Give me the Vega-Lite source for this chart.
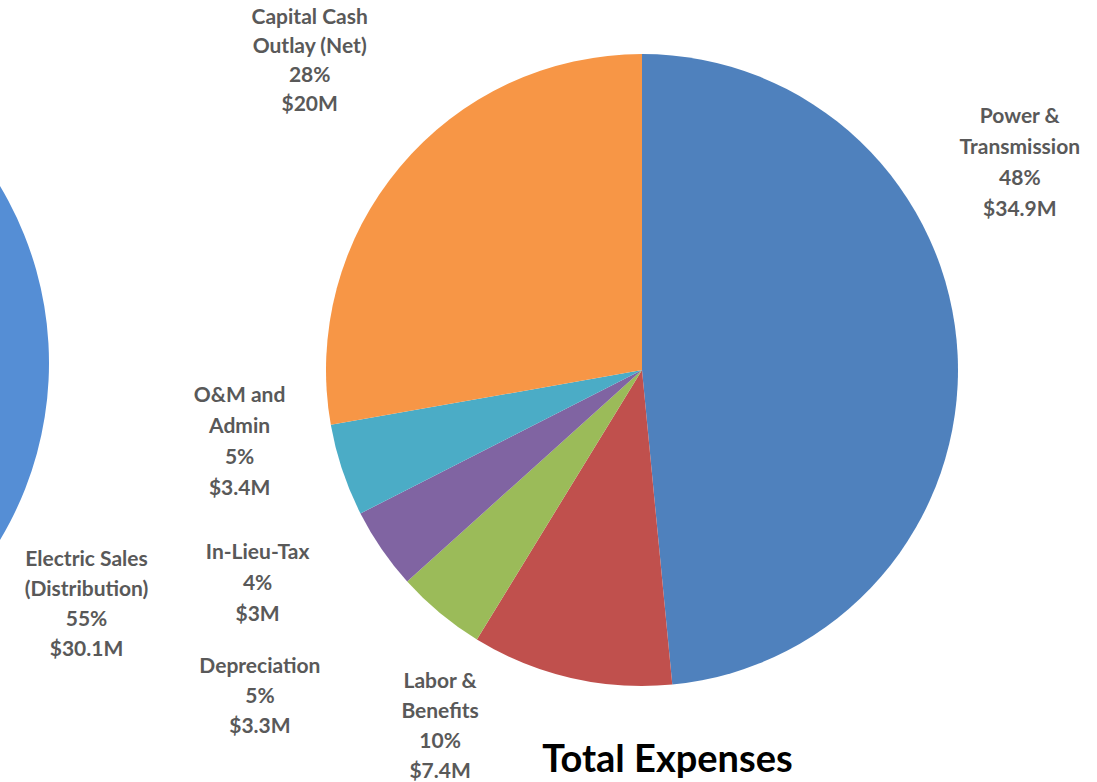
{
  "$schema": "https://vega.github.io/schema/vega-lite/v6.json",
  "width": 1097,
  "height": 740,
  "padding": {"left": 0, "top": 0, "right": 0, "bottom": 42},
  "autosize": {"type": "none"},
  "background": "white",
  "config": {"view": {"stroke": null}},
  "title": {
    "text": "Total Expenses",
    "orient": "bottom",
    "anchor": "middle",
    "dx": 119,
    "offset": -72,
    "font": "Lato",
    "fontSize": 38,
    "fontWeight": "bold",
    "color": "#000000"
  },
  "datasets": {
    "expenses": [
      {"chart": "Expenses", "category": "Power & Transmission", "amount": 34.9, "ord": 1, "label": ["Power &", "Transmission", "48%", "$34.9M"]},
      {"chart": "Expenses", "category": "Labor & Benefits", "amount": 7.4, "ord": 2, "label": ["Labor &", "Benefits", "10%", "$7.4M"]},
      {"chart": "Expenses", "category": "Depreciation", "amount": 3.3, "ord": 3, "label": ["Depreciation", "5%", "$3.3M"]},
      {"chart": "Expenses", "category": "In-Lieu-Tax", "amount": 3.0, "ord": 4, "label": ["In-Lieu-Tax", "4%", "$3M"]},
      {"chart": "Expenses", "category": "O&M and Admin", "amount": 3.4, "ord": 5, "label": ["O&M and", "Admin", "5%", "$3.4M"]},
      {"chart": "Expenses", "category": "Capital Cash Outlay (Net)", "amount": 20.0, "ord": 6, "label": ["Capital Cash", "Outlay (Net)", "28%", "$20M"]}
    ],
    "revenue": [
      {"chart": "Revenue", "category": "Electric Sales (Distribution)", "amount": 30.1, "ord": 1, "label": ["Electric Sales", "(Distribution)", "55%", "$30.1M"]},
      {"chart": "Revenue", "category": "Other Revenue", "amount": 24.6, "ord": 2, "label": []}
    ]
  },
  "resolve": {"scale": {"theta": "independent"}},
  "layer": [
    {
      "data": {"name": "revenue"},
      "encoding": {
        "x": {"field": "chart", "type": "nominal", "axis": null, "scale": {"type": "point", "domain": ["Revenue", "Expenses"], "range": [-295, 642], "padding": 0}},
        "y": {"field": "chart", "type": "nominal", "axis": null, "scale": {"type": "point", "domain": ["Revenue", "Expenses"], "range": [363, 370], "padding": 0}},
        "theta": {"field": "amount", "type": "quantitative", "stack": true},
        "order": {"field": "ord", "type": "quantitative"}
      },
      "layer": [
        {
          "mark": {"type": "arc", "outerRadius": 344, "clip": true},
          "encoding": {
            "color": {"field": "category", "type": "nominal", "legend": null,
              "scale": {
                "domain": ["Power & Transmission", "Labor & Benefits", "Depreciation", "In-Lieu-Tax", "O&M and Admin", "Capital Cash Outlay (Net)", "Electric Sales (Distribution)", "Other Revenue"],
                "range": ["#4F81BD", "#C0504D", "#9BBB59", "#8064A2", "#4BACC6", "#F79646", "#558ED5", "#A5A5A5"]
              }
            }
          }
        },
        {
          "mark": {"type": "text", "radius": 452, "thetaOffset": 0.408, "dy": -45, "font": "Lato", "fontSize": 21, "fontWeight": "bold", "lineHeight": 30, "color": "#595959", "align": "center", "baseline": "middle"},
          "encoding": {"detail": {"field": "category"}, "text": {"field": "label"}}
        }
      ]
    },
    {
      "data": {"name": "expenses"},
      "encoding": {
        "x": {"field": "chart", "type": "nominal", "axis": null, "scale": {"type": "point", "domain": ["Revenue", "Expenses"], "range": [-295, 642], "padding": 0}},
        "y": {"field": "chart", "type": "nominal", "axis": null, "scale": {"type": "point", "domain": ["Revenue", "Expenses"], "range": [363, 370], "padding": 0}},
        "theta": {"field": "amount", "type": "quantitative", "stack": true},
        "order": {"field": "ord", "type": "quantitative"}
      },
      "layer": [
        {
          "mark": {"type": "arc", "outerRadius": 316},
          "encoding": {"color": {"field": "category", "type": "nominal", "legend": null}}
        },
        {
          "mark": {"type": "text", "radius": 431, "thetaOffset": -0.454, "dy": -46, "font": "Lato", "fontSize": 21, "fontWeight": "bold", "lineHeight": 31, "color": "#595959", "align": "center", "baseline": "middle"},
          "encoding": {"detail": {"field": "category"}, "text": {"condition": {"test": "datum.category === 'Power & Transmission'", "field": "label"}, "value": ""}}
        },
        {
          "mark": {"type": "text", "radius": 410, "thetaOffset": 0.288, "dy": -45, "font": "Lato", "fontSize": 21, "fontWeight": "bold", "lineHeight": 30, "color": "#595959", "align": "center", "baseline": "middle"},
          "encoding": {"detail": {"field": "category"}, "text": {"condition": {"test": "datum.category === 'Labor & Benefits'", "field": "label"}, "value": ""}}
        },
        {
          "mark": {"type": "text", "radius": 503, "thetaOffset": 0.169, "dy": -30, "font": "Lato", "fontSize": 21, "fontWeight": "bold", "lineHeight": 30, "color": "#595959", "align": "center", "baseline": "middle"},
          "encoding": {"detail": {"field": "category"}, "text": {"condition": {"test": "datum.category === 'Depreciation'", "field": "label"}, "value": ""}}
        },
        {
          "mark": {"type": "text", "radius": 440, "thetaOffset": 0.094, "dy": -31, "font": "Lato", "fontSize": 21, "fontWeight": "bold", "lineHeight": 31, "color": "#595959", "align": "center", "baseline": "middle"},
          "encoding": {"detail": {"field": "category"}, "text": {"condition": {"test": "datum.category === 'In-Lieu-Tax'", "field": "label"}, "value": ""}}
        },
        {
          "mark": {"type": "text", "radius": 409, "thetaOffset": 0.143, "dy": -47, "font": "Lato", "fontSize": 21, "fontWeight": "bold", "lineHeight": 31, "color": "#595959", "align": "center", "baseline": "middle"},
          "encoding": {"detail": {"field": "category"}, "text": {"condition": {"test": "datum.category === 'O&M and Admin'", "field": "label"}, "value": ""}}
        },
        {
          "mark": {"type": "text", "radius": 453, "thetaOffset": 0.049, "dy": -44, "font": "Lato", "fontSize": 21, "fontWeight": "bold", "lineHeight": 29, "color": "#595959", "align": "center", "baseline": "middle"},
          "encoding": {"detail": {"field": "category"}, "text": {"condition": {"test": "datum.category === 'Capital Cash Outlay (Net)'", "field": "label"}, "value": ""}}
        }
      ]
    }
  ]
}
